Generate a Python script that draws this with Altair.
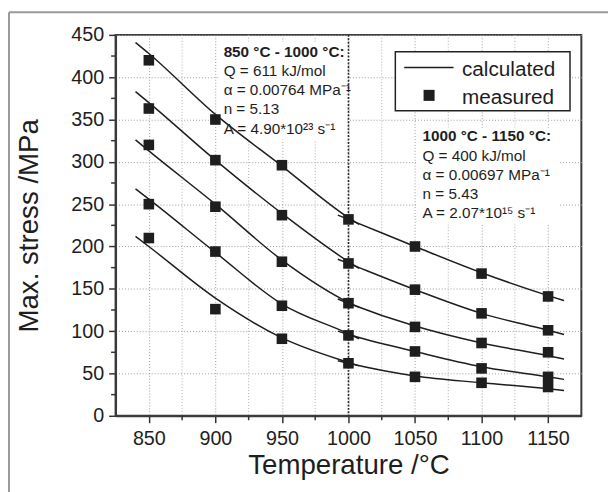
import altair as alt
import pandas as pd

# ---- data ----
temps = [850, 900, 950, 1000, 1050, 1100, 1150]
meas_1 = [420, 350, 296, 232, 200, 168, 141]
meas_2 = [363, 302, 237, 180, 149, 121, 101]
meas_3 = [320, 247, 182, 133, 105, 86, 75]
meas_4 = [250, 194, 130, 95, 76, 56, 46]
meas_5 = [210, 126, 91, 62, 46, 39, 34]

calc_low_T = [840, 850, 900, 950, 1000, 1008]
calc_low_1 = [441, 428, 356, 295, 234, 226]
calc_low_2 = [383, 370, 302, 239, 182, 174]
calc_low_3 = [326, 313, 250, 184, 134, 128]
calc_low_4 = [268, 256, 193, 132, 97, 91]
calc_low_5 = [212, 200, 139, 92, 63, 59]

calc_high_T = [992, 1000, 1050, 1100, 1150, 1162]
calc_high_1 = [237, 232, 200, 169, 142, 136]
calc_high_2 = [185, 180, 149, 121, 101, 96]
calc_high_3 = [138, 133, 106, 86, 71, 67]
calc_high_4 = [100, 96, 76, 58, 46, 43]
calc_high_5 = [65, 62, 47, 39, 32, 30]

x_major = [850, 900, 950, 1000, 1050, 1100, 1150]
x_minor = [875, 925, 975, 1025, 1075, 1125]
y_major = [0, 50, 100, 150, 200, 250, 300, 350, 400, 450]
y_minor = [25, 75, 125, 175, 225, 275, 325, 375, 425]
split_T = [1000]

note_low = ["850 °C - 1000 °C:", "Q = 611 kJ/mol", "α = 0.00764 MPa⁻¹",
            "n = 5.13", "A = 4.90*10²³ s⁻¹"]
note_high = ["1000 °C - 1150 °C:", "Q = 400 kJ/mol", "α = 0.00697 MPa⁻¹",
             "n = 5.43", "A = 2.07*10¹⁵ s⁻¹"]
legend_labels = ["calculated", "measured"]

# ---- tables ----
meas_rows = []
for i, s in enumerate([meas_1, meas_2, meas_3, meas_4, meas_5]):
    for t, v in zip(temps, s):
        meas_rows.append({"T": t, "sigma": v, "series": i})
meas_df = pd.DataFrame(meas_rows)

calc_rows = []
for i, (lo, hi) in enumerate(zip([calc_low_1, calc_low_2, calc_low_3, calc_low_4, calc_low_5],
                                 [calc_high_1, calc_high_2, calc_high_3, calc_high_4, calc_high_5])):
    for j, (t, v) in enumerate(zip(calc_low_T, lo)):
        calc_rows.append({"T": t, "sigma": v, "curve": f"lo{i}", "o": j})
    for j, (t, v) in enumerate(zip(calc_high_T, hi)):
        calc_rows.append({"T": t, "sigma": v, "curve": f"hi{i}", "o": j})
calc_df = pd.DataFrame(calc_rows)

FONT = "Liberation Sans"
INK = "#1e1e1e"
xs = alt.Scale(domain=[825, 1175], nice=False, zero=False)
ys = alt.Scale(domain=[0, 450], nice=False)

x_axis = alt.Axis(values=x_major, format="d", grid=True, gridColor="#9a9a9a", gridDash=[1, 2],
                  tickSize=7, labelPadding=6, titlePadding=3)
y_axis = alt.Axis(values=y_major, format="d", grid=True, gridColor="#9a9a9a", gridDash=[1, 2],
                  tickSize=7, labelPadding=5, titlePadding=28)
X_TITLE = "Temperature /°C"
Y_TITLE = "Max. stress /MPa"


def X(field):
    return alt.X(field, scale=xs, axis=x_axis, title=X_TITLE)


def Y(field):
    return alt.Y(field, scale=ys, axis=y_axis, title=Y_TITLE)


# invisible layer that owns both axes
axis_owner = alt.Chart(meas_df).mark_point(opacity=0).encode(x=X("T:Q"), y=Y("sigma:Q"))

minor_grid = alt.Chart(pd.DataFrame({"T": x_minor})).mark_rule(
    color="#b0b0b0", strokeDash=[1, 2], strokeWidth=1).encode(
    x=X("T:Q"), y=alt.value(0), y2=alt.value(386))

curves = alt.Chart(calc_df).mark_line(color=INK, strokeWidth=1.5, interpolate="monotone").encode(
    x=X("T:Q"), y=Y("sigma:Q"), detail="curve:N", order="o:Q")

minor_xt = alt.Chart(pd.DataFrame({"T": x_minor})).mark_rule(color="#333", strokeWidth=1.5).encode(
    x=X("T:Q"), y=alt.value(386), y2=alt.value(390.5))
minor_yt = alt.Chart(pd.DataFrame({"sigma": y_minor})).mark_rule(color="#333", strokeWidth=1.5).encode(
    y=Y("sigma:Q"), x=alt.value(-4.5), x2=alt.value(0))

# white boxes behind the notes
box_low = alt.Chart(pd.DataFrame({"a": [0]})).mark_rect(fill="white").encode(
    x=alt.value(104), x2=alt.value(235), y=alt.value(7), y2=alt.value(106))
box_high = alt.Chart(pd.DataFrame({"a": [0]})).mark_rect(fill="white").encode(
    x=alt.value(306), x2=alt.value(449), y=alt.value(94), y2=alt.value(192))

split_line = alt.Chart(pd.DataFrame({"T": split_T})).mark_rule(
    color="#2a2a2a", strokeDash=[2, 1.5], strokeWidth=1.6).encode(x=X("T:Q"))

squares = alt.Chart(meas_df).mark_square(size=115, color=INK, opacity=1).encode(
    x=X("T:Q"), y=Y("sigma:Q"))

layers = [axis_owner, minor_grid, box_low, box_high, curves, split_line, squares, minor_xt, minor_yt]

for i, line in enumerate(note_low):
    layers.append(alt.Chart(pd.DataFrame({"t": [line]})).mark_text(
        font=FONT, fontSize=15.5, fontWeight="bold" if i == 0 else "normal",
        align="left", baseline="alphabetic", color=INK).encode(
        text="t:N", x=alt.value(109.5), y=alt.value(22 + i * 19.5)))
for i, line in enumerate(note_high):
    layers.append(alt.Chart(pd.DataFrame({"t": [line]})).mark_text(
        font=FONT, fontSize=15.5, fontWeight="bold" if i == 0 else "normal",
        align="left", baseline="alphabetic", color=INK).encode(
        text="t:N", x=alt.value(311), y=alt.value(108 + i * 19.5)))

# legend
layers.append(alt.Chart(pd.DataFrame({"a": [0]})).mark_rect(
    fill="white", stroke="#222", strokeWidth=1.5).encode(
    x=alt.value(283.5), x2=alt.value(460.5), y=alt.value(17), y2=alt.value(77)))
layers.append(alt.Chart(pd.DataFrame({"a": [0]})).mark_rule(color=INK, strokeWidth=1.5).encode(
    x=alt.value(292.5), x2=alt.value(342.5), y=alt.value(33)))
layers.append(alt.Chart(pd.DataFrame({"a": [0]})).mark_square(size=125, color=INK, opacity=1).encode(
    x=alt.value(317.7), y=alt.value(61.3)))
for i, lab in enumerate(legend_labels):
    layers.append(alt.Chart(pd.DataFrame({"t": [lab]})).mark_text(
        font=FONT, fontSize=21, align="left", baseline="alphabetic", color=INK).encode(
        text="t:N", x=alt.value(351), y=alt.value(42 + i * 28)))

# outer frame of the figure
layers.append(alt.Chart(pd.DataFrame({"a": [0]})).mark_rule(color="#9a9a9a", strokeWidth=2).encode(
    x=alt.value(-108), y=alt.value(-23), y2=alt.value(470)))
layers.append(alt.Chart(pd.DataFrame({"a": [0]})).mark_rule(color="#9a9a9a", strokeWidth=2).encode(
    x=alt.value(-108), x2=alt.value(520), y=alt.value(-23)))

chart = alt.layer(*layers).properties(
    width=472, height=386,
    padding={"left": 109, "top": 24, "right": 27, "bottom": 74},
    autosize=alt.AutoSizeParams(type="none"),
    background="white",
).configure_view(
    stroke="#3a3a3a", strokeWidth=2
).configure_axis(
    labelFont=FONT, labelFontSize=20, labelColor=INK,
    titleFont=FONT, titleFontSize=28, titleFontWeight="normal", titleColor=INK,
    domainColor="#3a3a3a", domainWidth=2, tickColor="#333", tickWidth=1.5,
)

chart.save("out.html", embed_options={"renderer": "svg", "actions": False})
